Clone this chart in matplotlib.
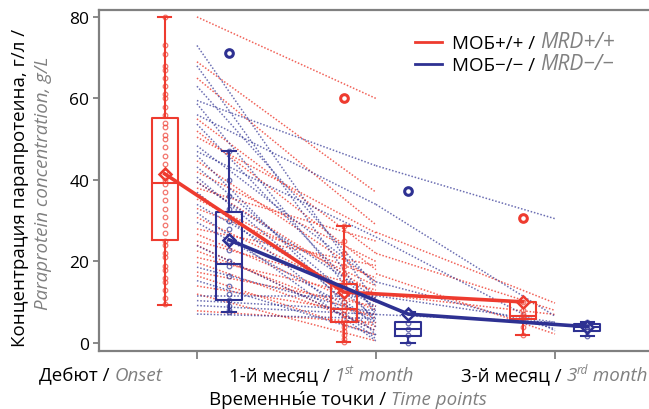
import matplotlib
matplotlib.use("Agg")
import matplotlib.pyplot as plt
from matplotlib.lines import Line2D
from matplotlib.text import Annotation

plt.rcParams['font.family'] = ['Open Sans', 'DejaVu Sans']

RED = '#ee3b2f'
BLUE = '#2e3192'
GRAY = '#808080'

# time points (x positions of the patient trajectories)
times = [0, 1, 2]
offset = 0.18

# ---- patient trajectories, MRD+/+ (red) ----
red_a0 = [80, 69, 65, 55, 52, 50.5, 44.7, 42, 39.5, 38, 35.3, 30.8, 28, 26.7, 25, 22.6, 21, 19.8,
          17.4, 16.5, 14, 12, 7.9, 33, 24]
red_a1 = [60, 37, 29, 22, 18, 27, 15, 20, 12, 25, 14, 10, 19, 8, 13, 6, 11, 4,
          9, 2, 7, 0.5, 5, 16, 3]
red_b1 = [27.2, 22, 17, 12]
red_b2 = [9.8, 8, 2.2, 7]

# ---- patient trajectories, MRD-/- (blue) ----
blue_a0 = [73, 68, 63, 59.5, 56, 58.7, 53.7, 48.4, 47, 46, 43.2, 40.7, 39.5, 37, 34, 32, 29.6,
           23.9, 18.6, 15.3, 11.6, 10.4, 9.2, 7.1]
blue_a1 = [10, 7, 14, 43.5, 34, 5, 8, 15, 26, 2, 6, 4, 11, 1, 9, 0.5, 5,
           3, 7, 2, 11.6, 8, 7, 6]
blue_b1 = [43.5, 34, 26, 11.6, 7, 15]
blue_b2 = [30.5, 6.6, 3, 5.1, 5.1, 3.5]

# ---- box statistics per time point ----
red_q1 = [25.3, 5.2, 5.9]
red_med = [39.3, 8.3, 6.6]
red_q3 = [55.2, 14.5, 10.1]
red_lo = [9.4, 0.2, 2.0]
red_hi = [80, 28.8, 10.1]
red_mean = [41.5, 12.5, 10.1]
red_out = [[], [60.2], [30.6]]

blue_q1 = [10.6, 1.7, 3.0]
blue_med = [19.4, 3.4, 3.9]
blue_q3 = [32.1, 5.2, 4.7]
blue_lo = [7.6, 0.0, 1.8]
blue_hi = [47.2, 7.5, 5.2]
blue_mean = [25.3, 7.1, 4.0]
blue_out = [[71.2], [37.3], []]

# individual values drawn on the boxes
red_pts = [
    [80, 73, 71, 68, 67, 65, 63, 61, 60, 58, 56, 54, 53, 51, 50, 48, 46, 44, 42, 40, 39, 37,
     35, 33, 31, 29, 27, 25, 24, 22, 21, 19, 18, 16, 15, 13, 11, 9.5],
    [28.8, 25, 22, 19, 17, 15, 14, 12, 10, 9, 8, 7, 6, 5, 4, 3, 2, 1, 0.2],
    [10.1, 8, 7, 6.6, 5.9, 4, 2],
]
blue_pts = [
    [47, 40, 36, 33, 30, 28, 25, 22.8, 20, 19, 16.5, 14, 12, 10.6, 9, 8, 7.6],
    [7.5, 5, 3.4, 2, 0],
    [5.2, 4.7, 4, 3.5, 3, 1.8],
]

fig = plt.figure(figsize=(6.49, 4.10), dpi=100)
ax = fig.add_axes([99/649, 58/410, 550/649, 341/410])

dots = (0, (1, 1.2))
for i in range(len(red_a0)):
    ax.plot(times[:2], [red_a0[i], red_a1[i]], color=RED, lw=1.1, ls=dots, alpha=0.8, zorder=1)
for i in range(len(red_b1)):
    ax.plot(times[1:], [red_b1[i], red_b2[i]], color=RED, lw=1.1, ls=dots, alpha=0.8, zorder=1)
for i in range(len(blue_a0)):
    ax.plot(times[:2], [blue_a0[i], blue_a1[i]], color=BLUE, lw=1.1, ls=dots, alpha=0.7, zorder=1)
for i in range(len(blue_b1)):
    ax.plot(times[1:], [blue_b1[i], blue_b2[i]], color=BLUE, lw=1.1, ls=dots, alpha=0.7, zorder=1)


def boxes(q1, med, q3, lo, hi, mean, out, pts, pos, color):
    stats = []
    for k in range(len(q1)):
        stats.append(dict(q1=q1[k], med=med[k], q3=q3[k], whislo=lo[k], whishi=hi[k],
                          mean=mean[k], fliers=out[k]))
    lp = dict(color=color, lw=1.5)
    ax.bxp(stats, positions=pos, widths=0.145, capwidths=0.075, showmeans=True,
           boxprops=lp, whiskerprops=lp, capprops=lp, medianprops=lp,
           meanprops=dict(marker='D', mfc='white', mec=color, mew=1.8, ms=6.5),
           flierprops=dict(marker='o', mfc='none', mec=color, mew=2.2, ms=5.5),
           manage_ticks=False, zorder=3)
    for k in range(len(pts)):
        ax.plot([pos[k]] * len(pts[k]), pts[k], 'o', ms=3.3, mfc='none', mec=color,
                mew=0.9, alpha=0.7, zorder=4)
    ax.plot(pos, mean, color=color, lw=2.6, zorder=5)


red_pos = [t - offset for t in times]
blue_pos = [t + offset for t in times]
boxes(red_q1, red_med, red_q3, red_lo, red_hi, red_mean, red_out, red_pts, red_pos, RED)
boxes(blue_q1, blue_med, blue_q3, blue_lo, blue_hi, blue_mean, blue_out, blue_pts, blue_pos, BLUE)

ax.set_xlim(-0.547, 2.525)
ax.set_ylim(-1.96, 81.7)
ax.set_yticks([0, 20, 40, 60, 80])
ax.set_xticks(times)
ax.set_xticklabels([])
for s in ['left', 'bottom', 'top']:
    ax.spines[s].set_color(GRAY)
    ax.spines[s].set_linewidth(1.6)
ax.spines['right'].set_visible(False)
ax.tick_params(axis='both', color=GRAY, width=1.3, length=4, labelsize=12.5, pad=3)
ax.tick_params(axis='x', length=6)

gray_it = dict(color=GRAY, style='italic')
FS = 13.5


def chain(x, y, parts, size=FS):
    first = fig.text(x, y, parts[0][0], fontsize=size, va='bottom', ha='left', **parts[0][1])
    prev = first
    for s, st in parts[1:]:
        st = dict(st)
        fs = st.pop('fs', size)
        ry = st.pop('ry', 0)
        prev = fig.add_artist(Annotation(s, xy=(1, ry), xycoords=(prev, first), fontsize=fs,
                                         va='bottom', ha='left', **st))
    return prev


# x category labels
ylab = 1 - 385/410
sup = dict(gray_it, fs=8.5, ry=0.42)
chain(39/649, ylab, [('Дебют / ', {}), ('Onset', gray_it)])
chain(229/649, ylab, [('1-й месяц / ', {}), ('1', gray_it), ('st', sup), (' month', gray_it)])
chain(461/649, ylab, [('3-й месяц / ', {}), ('3', gray_it), ('rd', sup), (' month', gray_it)])
chain(209/649, 1 - 409/410, [('Временны\u0301е точки / ', {}), ('Time points', gray_it)])

# y axis label
fig.text(20/649, 1 - 188/410, 'Концентрация парапротеина, г/л /', rotation=90,
         ha='center', va='center', fontsize=FS)
fig.text(43/649, 1 - 183/410, 'Paraprotein concentration, g/L', rotation=90,
         ha='center', va='center', fontsize=FS, **gray_it)

# legend
leg_it = dict(gray_it, fs=15)
for yy, col, lab, lab2 in [(43, RED, 'МОБ+/+ / ', 'MRD+/+'),
                           (65, BLUE, 'МОБ\u2212/\u2212 / ', 'MRD\u2212/\u2212')]:
    fig.add_artist(Line2D([415/649, 442/649], [1 - yy/410] * 2, color=col, lw=2))
    chain(452/649, 1 - (yy + 10)/410, [(lab, {}), (lab2, leg_it)])

fig.savefig('out.png', dpi=100)
